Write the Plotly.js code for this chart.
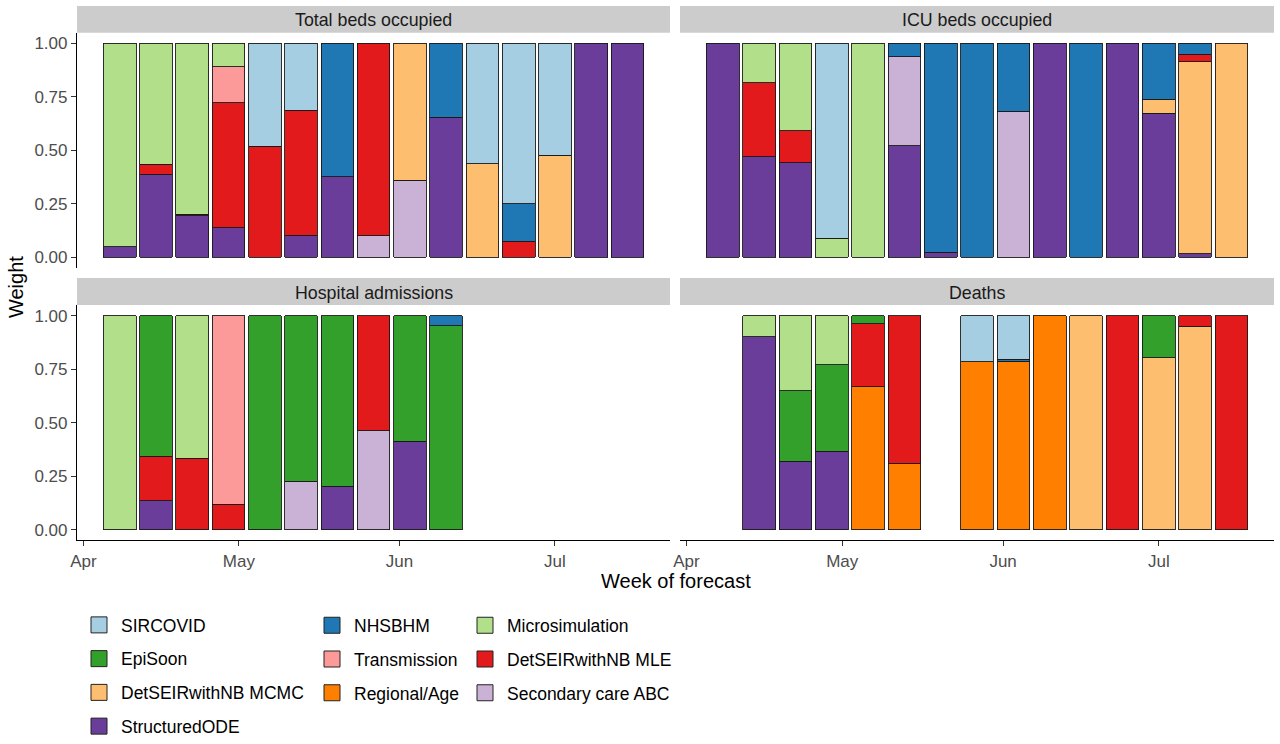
<!DOCTYPE html>
<html><head><meta charset="utf-8">
<script src="https://cdn.plot.ly/plotly-3.0.1.min.js"></script>
<style>html,body{margin:0;padding:0;background:#fff;} #chart{width:1280px;height:744px;}</style>
</head><body><div id="chart"></div>
<script>
// ---- data ----
const weeks = ['2020-04-08','2020-04-15','2020-04-22','2020-04-29','2020-05-06','2020-05-13','2020-05-20','2020-05-27','2020-06-03','2020-06-10','2020-06-17','2020-06-24','2020-07-01','2020-07-08','2020-07-15'];
const models = ['SIRCOVID','NHSBHM','Microsimulation','EpiSoon','Transmission','DetSEIRwithNB MLE','DetSEIRwithNB MCMC','Regional/Age','Secondary care ABC','StructuredODE'];
const modelColors = ['#A6CEE3','#1F78B4','#B2DF8A','#33A02C','#FB9A99','#E31A1C','#FDBF6F','#FF7F00','#CAB2D6','#6A3D9A'];
const legendColumns = [
  ['SIRCOVID','EpiSoon','DetSEIRwithNB MCMC','StructuredODE'],
  ['NHSBHM','Transmission','Regional/Age'],
  ['Microsimulation','DetSEIRwithNB MLE','Secondary care ABC']
];
const panelTitles = ['Total beds occupied','ICU beds occupied','Hospital admissions','Deaths'];
const monthTicks = ['2020-04-01','2020-05-01','2020-06-01','2020-07-01'];
const monthLabels = ['Apr','May','Jun','Jul'];
const weightTicks = [0,0.25,0.5,0.75,1];
const weightLabels = ['0.00','0.25','0.50','0.75','1.00'];

const totalBeds = {
  'SIRCOVID':           [0,0,0,0,0.48,0.313,0,0,0,0,0.562,0.748,0.522,0,0],
  'NHSBHM':             [0,0,0,0,0,0,0.622,0,0,0.344,0,0.176,0,0,0],
  'Microsimulation':    [0.95,0.565,0.799,0.108,0,0,0,0,0,0,0,0,0,0,0],
  'EpiSoon':            [0,0,0,0,0,0,0,0,0,0,0,0,0,0,0],
  'Transmission':       [0,0,0,0.168,0,0,0,0,0,0,0,0,0,0,0],
  'DetSEIRwithNB MLE':  [0,0.045,0.006,0.586,0.52,0.582,0,0.898,0,0,0,0.076,0,0,0],
  'DetSEIRwithNB MCMC': [0,0,0,0,0,0,0,0,0.638,0,0.438,0,0.478,0,0],
  'Regional/Age':       [0,0,0,0,0,0,0,0,0,0,0,0,0,0,0],
  'Secondary care ABC': [0,0,0,0,0,0,0,0.102,0.362,0,0,0,0,0,0],
  'StructuredODE':      [0.05,0.39,0.195,0.138,0,0.105,0.378,0,0,0.656,0,0,0,1,1]
};
const icuBeds = {
  'SIRCOVID':           [0,0,0,0.909,0,0,0,0,0,0,0,0,0,0,0],
  'NHSBHM':             [0,0,0,0,0,0.062,0.975,1,0.317,0,1,0,0.26,0.05,0],
  'Microsimulation':    [0,0.184,0.407,0.091,1,0,0,0,0,0,0,0,0,0,0],
  'EpiSoon':            [0,0,0,0,0,0,0,0,0,0,0,0,0,0,0],
  'Transmission':       [0,0,0,0,0,0,0,0,0,0,0,0,0,0,0],
  'DetSEIRwithNB MLE':  [0,0.345,0.15,0,0,0,0,0,0,0,0,0,0,0.035,0],
  'DetSEIRwithNB MCMC': [0,0,0,0,0,0,0,0,0,0,0,0,0.065,0.898,1],
  'Regional/Age':       [0,0,0,0,0,0,0,0,0,0,0,0,0,0,0],
  'Secondary care ABC': [0,0,0,0,0,0.415,0,0,0.683,0,0,0,0,0,0],
  'StructuredODE':      [1,0.471,0.443,0,0,0.523,0.025,0,0,1,0,1,0.675,0.017,0]
};
const hospitalAdmissions = {
  'SIRCOVID':           [0,0,0,0,0,0,0,0,0,0,0,0,0,0,0],
  'NHSBHM':             [0,0,0,0,0,0,0,0,0,0.048,0,0,0,0,0],
  'Microsimulation':    [1,0,0.667,0,0,0,0,0,0,0,0,0,0,0,0],
  'EpiSoon':            [0,0.658,0,0,1,0.773,0.798,0,0.588,0.952,0,0,0,0,0],
  'Transmission':       [0,0,0,0.882,0,0,0,0,0,0,0,0,0,0,0],
  'DetSEIRwithNB MLE':  [0,0.207,0.333,0.118,0,0,0,0.538,0,0,0,0,0,0,0],
  'DetSEIRwithNB MCMC': [0,0,0,0,0,0,0,0,0,0,0,0,0,0,0],
  'Regional/Age':       [0,0,0,0,0,0,0,0,0,0,0,0,0,0,0],
  'Secondary care ABC': [0,0,0,0,0,0.227,0,0.462,0,0,0,0,0,0,0],
  'StructuredODE':      [0,0.135,0,0,0,0,0.202,0,0.412,0,0,0,0,0,0]
};
const deaths = {
  'SIRCOVID':           [0,0,0,0,0,0,0,0.216,0.204,0,0,0,0,0,0],
  'NHSBHM':             [0,0,0,0,0,0,0,0,0.008,0,0,0,0,0,0],
  'Microsimulation':    [0,0.098,0.352,0.229,0,0,0,0,0,0,0,0,0,0,0],
  'EpiSoon':            [0,0,0.329,0.404,0.039,0,0,0,0,0,0,0,0.197,0,0],
  'Transmission':       [0,0,0,0,0,0,0,0,0,0,0,0,0,0,0],
  'DetSEIRwithNB MLE':  [0,0,0,0,0.294,0.69,0,0,0,0,0,1,0,0.05,1],
  'DetSEIRwithNB MCMC': [0,0,0,0,0,0,0,0,0,0,1,0,0.803,0.95,0],
  'Regional/Age':       [0,0,0,0,0.667,0.31,0,0.784,0.788,1,0,0,0,0,0],
  'Secondary care ABC': [0,0,0,0,0,0,0,0,0,0,0,0,0,0,0],
  'StructuredODE':      [0,0.902,0.319,0.367,0,0,0,0,0,0,0,0,0,0,0]
};
const panels = [totalBeds, icuBeds, hospitalAdmissions, deaths];

// ---- layout geometry (pixels) ----
const W = 1280, H = 744;
const FONT = 'Liberation Sans, Arial, sans-serif';
const px = p => p / W;
const py = p => 1 - p / H;
const colX = [[77, 670], [680, 1274]];
const rowY = [[33, 270], [307, 544]];
const stripH = 27;
const DAY = 86400000;

const traces = [];
panels.forEach((data, p) => {
  const ax = p === 0 ? '' : String(p + 1);
  for (let m = models.length - 1; m >= 0; m--) {
    const name = models[m];
    const vals = data[name].map(v => v > 0 ? v : null);
    if (vals.every(v => v === null)) continue;
    traces.push({
      type: 'bar', x: weeks, y: vals, name: name,
      xaxis: 'x' + ax, yaxis: 'y' + ax,
      width: 6.3 * DAY,
      marker: {color: modelColors[m], line: {color: '#1a1a1a', width: 0.9}},
      legendgroup: name, showlegend: false, hoverinfo: 'x+y+name'
    });
  }
});
// legend entries
legendColumns.forEach((col, c) => {
  col.forEach(name => {
    const m = models.indexOf(name);
    traces.push({
      type: 'scatter', mode: 'markers', x: [null], y: [null], name: name,
      xaxis: 'x', yaxis: 'y',
      marker: {symbol: 'square', size: 20, color: modelColors[m], line: {color: '#222', width: 1}},
      legend: c === 0 ? 'legend' : 'legend' + (c + 1),
      legendgroup: name, showlegend: true, hoverinfo: 'skip'
    });
  });
});

const xRange = ['2020-03-30 18:00:00', '2020-07-23 04:48:00'];
function xAxis(c, r) {
  const bottom = r === 1;
  return {
    type: 'date', domain: [px(colX[c][0]), px(colX[c][1])], range: xRange,
    anchor: 'y' + (r * 2 + c === 0 ? '' : String(r * 2 + c + 1)),
    showgrid: false, zeroline: false,
    showline: bottom, linecolor: '#000', linewidth: 1.2,
    ticks: bottom ? 'outside' : '', ticklen: 5, tickwidth: 1.1, tickcolor: '#333',
    tickvals: monthTicks, ticktext: monthLabels, showticklabels: bottom,
    tickfont: {family: FONT, size: 17, color: '#4d4d4d'}, fixedrange: true
  };
}
function yAxis(c, r) {
  const left = c === 0;
  return {
    domain: [py(rowY[r][1]), py(rowY[r][0])], range: [-0.05, 1.05],
    anchor: 'x' + (r * 2 + c === 0 ? '' : String(r * 2 + c + 1)),
    showgrid: false, zeroline: false,
    showline: left, linecolor: '#000', linewidth: 1.2,
    ticks: left ? 'outside' : '', ticklen: 5, tickwidth: 1.1, tickcolor: '#333',
    tickvals: weightTicks, ticktext: weightLabels, showticklabels: left,
    tickfont: {family: FONT, size: 17, color: '#4d4d4d'}, fixedrange: true
  };
}

const shapes = [], annotations = [];
panelTitles.forEach((t, p) => {
  const c = p % 2, r = Math.floor(p / 2);
  const top = rowY[r][0] - stripH, bot = rowY[r][0];
  shapes.push({type: 'rect', xref: 'paper', yref: 'paper', layer: 'below',
    x0: px(colX[c][0]), x1: px(colX[c][1]), y0: py(bot), y1: py(top),
    fillcolor: '#CCCCCC', line: {width: 0}});
  annotations.push({xref: 'paper', yref: 'paper', x: px((colX[c][0] + colX[c][1]) / 2), y: py((top + bot) / 2 + 1),
    text: t, showarrow: false, xanchor: 'center', yanchor: 'middle',
    font: {family: FONT, size: 17.8, color: '#1a1a1a'}});
});
annotations.push({xref: 'paper', yref: 'paper', x: px(16), y: py(289), text: 'Weight', textangle: -90,
  showarrow: false, xanchor: 'center', yanchor: 'middle', font: {family: FONT, size: 20, color: '#000'}});
annotations.push({xref: 'paper', yref: 'paper', x: px(675.5), y: py(585), text: 'Week of forecast',
  showarrow: false, xanchor: 'center', yanchor: 'middle', font: {family: FONT, size: 20, color: '#000'}});

function legendAt(xp) {
  return {x: px(xp), y: py(611.5), xanchor: 'left', yanchor: 'top', orientation: 'v',
    bgcolor: 'rgba(0,0,0,0)', borderwidth: 0, tracegroupgap: 8, itemwidth: 34,
    font: {family: FONT, size: 17.5, color: '#000'}};
}

const layout = {
  width: W, height: H, margin: {l: 0, r: 0, t: 0, b: 0},
  paper_bgcolor: '#fff', plot_bgcolor: 'rgba(0,0,0,0)',
  barmode: 'stack', font: {family: FONT},
  xaxis: xAxis(0, 0), xaxis2: xAxis(1, 0), xaxis3: xAxis(0, 1), xaxis4: xAxis(1, 1),
  yaxis: yAxis(0, 0), yaxis2: yAxis(1, 0), yaxis3: yAxis(0, 1), yaxis4: yAxis(1, 1),
  shapes: shapes, annotations: annotations,
  legend: legendAt(77), legend2: legendAt(310), legend3: legendAt(463)
};

Plotly.newPlot('chart', traces, layout, {displayModeBar: false, responsive: false});
</script>
</body></html>
